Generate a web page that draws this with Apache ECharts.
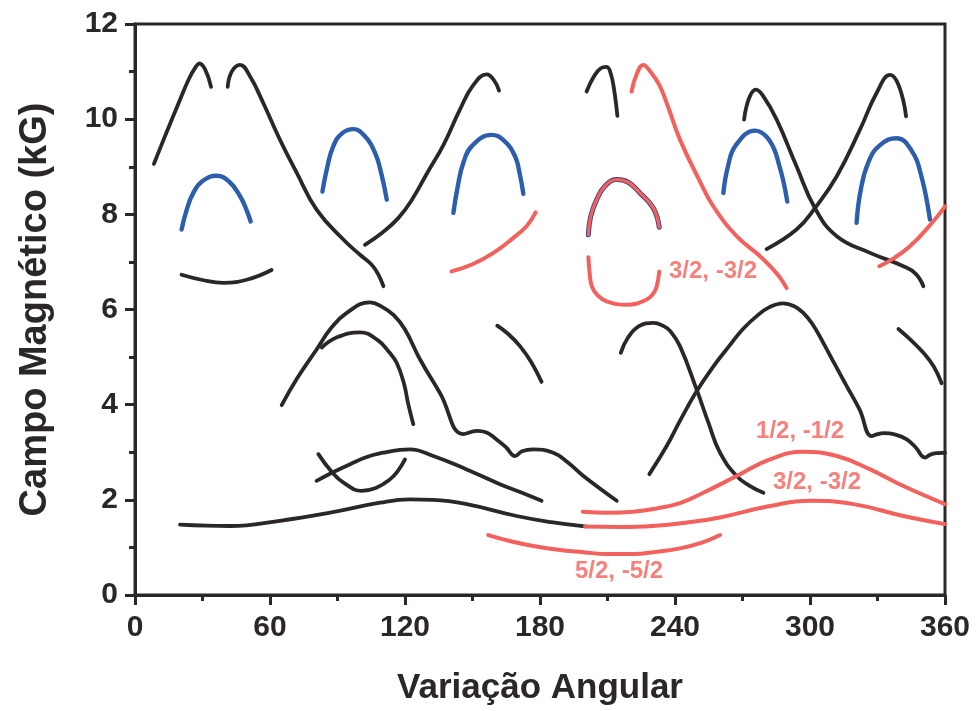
<!DOCTYPE html>
<html>
<head>
<meta charset="utf-8">
<script src="https://cdn.jsdelivr.net/npm/echarts@6/dist/echarts.min.js"></script>
<style>
  html, body { margin: 0; padding: 0; background: #ffffff; }
  #chart { width: 978px; height: 711px; }
</style>
</head>
<body>
<div id="chart"></div>
<script>
// Angular dependence of resonance fields: each branch is [angle (deg), field (kG)]
const xTicks = [0, 60, 120, 180, 240, 300, 360];
const yTicks = [0, 2, 4, 6, 8, 10, 12];

// black branches
const blackA = [[8.4,9.06],[14,9.72],[19.5,10.35],[24,10.85],[27,11.1],[28.6,11.17],[31.1,11.05],[33.8,10.68]];
const blackB = [[41.2,10.68],[43,11.0],[46.7,11.14],[51.1,10.9],[57,10.34],[64.4,9.57],[71.9,8.87],[80.7,8.10],[92.6,7.47],[100,7.15],[105,6.95],[108,6.75],[110.4,6.49]];
const blackD = [[20.7,6.73],[30,6.62],[39.3,6.56],[50,6.63],[60.7,6.83]];
const blackF = [[102.2,7.36],[110,7.62],[117,7.92],[123,8.3],[130,8.88],[137,9.45],[144.4,10.2],[150.4,10.72],[156.3,10.94],[159.5,10.82],[161.8,10.60]];
const blackI = [[200.7,10.58],[204,10.9],[207,11.07],[209.6,11.10],[211.5,10.95],[213,10.6],[214.4,10.07]];
const blackM = [[270.7,9.99],[273,10.45],[276,10.62],[279,10.5],[285.2,9.99],[294,9.01],[302.2,8.13],[311.9,7.54],[326.7,7.19],[341.5,6.91],[347,6.75],[350.4,6.49]];
const blackN = [[280.7,7.27],[294,7.68],[302.2,8.13],[311.9,8.80],[322.2,9.78],[329.6,10.55],[335.6,10.93],[339.5,10.7],[342.7,10.06]];
const blackR = [[65.2,3.99],[72,4.55],[80.7,5.16],[87,5.6],[94.1,5.93],[104.4,6.15],[110,6.05],[115,5.88],[120,5.58],[126.7,4.95],[135.6,4.24],[145.9,3.38],[152,3.45],[156,3.42],[160.7,3.27],[165,3.1],[168.9,2.92],[172,3.02],[177,3.06],[185.9,2.99],[192,2.8],[199.3,2.50],[214.1,1.98]];
const blackS = [[83,5.20],[90,5.42],[100,5.52],[108,5.35],[113,5.1],[116.3,4.88],[119.5,4.45],[121.5,4.0],[123.7,3.59]];
const blackT = [[81.5,2.96],[87.4,2.59],[93,2.35],[100.7,2.19],[107,2.25],[113.3,2.43],[117,2.62],[120,2.85]];
const blackU = [[80.7,2.40],[88,2.58],[95.6,2.75],[103,2.9],[110.4,2.99],[117.8,3.05],[122.2,3.06],[132.6,2.92],[147.4,2.64],[162.2,2.33],[172,2.15],[180.7,1.98]];
const blackV = [[20,1.48],[42.2,1.45],[64.4,1.56],[86.7,1.73],[108.9,1.94],[122.2,2.01],[132.6,2.0],[147.4,1.91],[169.6,1.66],[185,1.53],[200,1.44]];
const blackY = [[215.9,5.09],[219,5.4],[224,5.65],[230.4,5.72],[235,5.65],[237.8,5.55],[242.2,5.23],[249.6,4.32],[255,3.6],[260,2.99],[267.4,2.50],[273,2.3],[279.3,2.15]];
const blackZ = [[228.6,2.54],[236.3,3.13],[242.2,3.66],[249.6,4.28],[257,4.8],[264.4,5.25],[270,5.58],[276.3,5.86],[282,6.05],[288.1,6.13],[293,6.07],[297,5.93],[301,5.7],[305.9,5.30],[311,4.85],[316.3,4.39],[322,3.9],[327.4,3.34],[330,3.38],[332.6,3.40],[338,3.37],[343,3.27],[347,3.1],[351.1,2.89],[353.5,2.95],[356.3,2.98],[360,2.99]];
const blackAA = [[339.3,5.59],[345,5.35],[350.4,5.09],[355,4.8],[358.5,4.45]];
const blackAB = [[161,5.66],[166,5.48],[171.1,5.23],[176,4.9],[180.7,4.48]];

// blue branches
const blueC = [[20.7,7.68],[23,8.1],[25.9,8.45],[30,8.7],[36.3,8.81],[42,8.68],[46.7,8.38],[49.5,8.1],[51.4,7.85]];
const blueE = [[83.3,8.48],[85.5,9.0],[88.1,9.43],[92,9.7],[97,9.79],[102,9.65],[106.7,9.29],[109.5,8.85],[111.9,8.31]];
const blueG = [[141.5,8.03],[143.5,8.6],[145.9,9.08],[150,9.45],[158.5,9.67],[164,9.55],[168.9,9.22],[171,8.85],[172.6,8.43]];
const blueK = [[201.5,7.57],[202.5,7.95],[205.2,8.31],[209,8.6],[214.1,8.73],[219,8.68],[224.4,8.45],[230.4,8.13],[233,7.73]];
const blueO = [[261.5,8.45],[263.5,9.0],[267,9.45],[275.6,9.76],[282,9.55],[286.5,9.0],[289.9,8.27]];
const blueP = [[320.7,7.82],[322.5,8.5],[326,9.1],[331,9.45],[338.5,9.60],[345,9.35],[349.5,8.8],[353.3,7.89]];

// red branches
const redH = [[140.7,6.80],[150,6.95],[159.3,7.19],[168,7.5],[174,7.75],[178.1,8.04]];
const redJ = [[220.7,10.58],[223,10.95],[225.9,11.14],[229,11.0],[233,10.72],[236.3,10.34],[242.2,9.57],[251,8.7],[257,8.17],[267.4,7.54],[277.8,7.12],[283.7,6.84],[287,6.65],[289.6,6.45]];
const redL = [[201.5,7.10],[202,6.8],[203,6.49],[205.5,6.3],[209.6,6.17],[218.5,6.10],[227.4,6.21],[230.5,6.35],[231.9,6.49],[233,6.80]];
const redQ = [[330.8,6.91],[337,7.07],[344.4,7.33],[352,7.7],[360,8.17]];
const redV = [[200,1.44],[215,1.43],[230,1.45],[245,1.52],[260,1.63],[282.2,1.87],[300,1.98],[319.3,1.91],[341.5,1.66],[360,1.49]];
const redW = [[199,1.75],[210,1.73],[221.5,1.75],[232,1.82],[242.2,1.93],[252.6,2.15],[267.4,2.50],[282.2,2.85],[297,3.01],[311.9,2.92],[326.7,2.64],[341.5,2.29],[360,1.91]];
const redX = [[157,1.26],[167,1.13],[177,1.03],[188,0.95],[199.3,0.90],[210,0.86],[221.5,0.86],[232,0.91],[242.2,0.98],[252,1.1],[260,1.26]];

// transition labels
const labelTexts = ['3/2, -3/2', '1/2, -1/2', '3/2, -3/2', '5/2, -5/2'];
const labelAngles = [256.9, 295.6, 303.1, 215.1];
const labelFields = [6.80, 3.44, 2.37, 0.50];

const INK = '#2b2628';
const BLUE = '#2d5ead';
const RED = '#f2615c';
const FONT = "'Liberation Sans', Arial, sans-serif";

function branch(data, color, width) {
  return {
    type: 'line',
    data: data,
    smooth: 0.45,
    showSymbol: false,
    silent: true,
    lineStyle: { color: color, width: width, cap: 'round', join: 'round' },
    z: 2
  };
}

const series = [];
[blackA, blackB, blackD, blackF, blackI, blackM, blackN, blackR, blackS, blackT, blackU, blackV, blackY, blackZ, blackAA, blackAB]
  .forEach(d => series.push(branch(d, INK, 3.8)));
[blueC, blueE, blueG, blueO, blueP].forEach(d => series.push(branch(d, BLUE, 4.4)));
series.push(branch(blueK, '#2c3f86', 5));
[redH, redJ, redL, redQ, redV, redW, redX].forEach(d => series.push(branch(d, RED, 4)));
series.push(branch(blueK, RED, 3.4));

series.push({
  type: 'scatter',
  symbolSize: 0,
  silent: true,
  data: labelTexts.map((t, i) => ({ name: t, value: [labelAngles[i], labelFields[i]] })),
  label: {
    show: true,
    position: 'inside',
    formatter: p => p.name,
    color: RED,
    fontSize: 24,
    fontWeight: 'bold',
    fontFamily: FONT
  },
  z: 5
});

const axisLine = { show: true, onZero: false, lineStyle: { color: INK, width: 3 } };

const chart = echarts.init(document.getElementById('chart'), null, { renderer: 'canvas' });
chart.setOption({
  backgroundColor: '#ffffff',
  animation: false,
  grid: { left: 135, right: 33, top: 24, bottom: 115, show: true, borderColor: INK, borderWidth: 3, backgroundColor: 'transparent' },
  xAxis: {
    type: 'value', min: xTicks[0], max: xTicks[xTicks.length - 1], interval: xTicks[1] - xTicks[0],
    axisLine: axisLine,
    axisTick: { show: true, inside: false, length: 10, lineStyle: { color: INK, width: 3 } },
    minorTick: { show: true, splitNumber: 2, length: 6, lineStyle: { color: INK, width: 3 } },
    splitLine: { show: false },
    axisLabel: { color: INK, fontSize: 30, fontWeight: 'bold', fontFamily: FONT, margin: 18 },
    name: 'Variação Angular', nameLocation: 'middle', nameGap: 76,
    nameTextStyle: { color: INK, fontSize: 35, fontWeight: 'bold', fontFamily: FONT }
  },
  yAxis: {
    type: 'value', min: yTicks[0], max: yTicks[yTicks.length - 1], interval: yTicks[1] - yTicks[0],
    axisLine: axisLine,
    axisTick: { show: true, inside: false, length: 10, lineStyle: { color: INK, width: 3 } },
    minorTick: { show: true, splitNumber: 2, length: 6, lineStyle: { color: INK, width: 3 } },
    splitLine: { show: false },
    axisLabel: { color: INK, fontSize: 30, fontWeight: 'bold', fontFamily: FONT, margin: 17 },
    name: 'Campo Magnético (kG)', nameLocation: 'middle', nameGap: 80,
    nameTextStyle: { color: INK, fontSize: 38, fontWeight: 'bold', fontFamily: FONT }
  },
  series: series
});
</script>
</body>
</html>
